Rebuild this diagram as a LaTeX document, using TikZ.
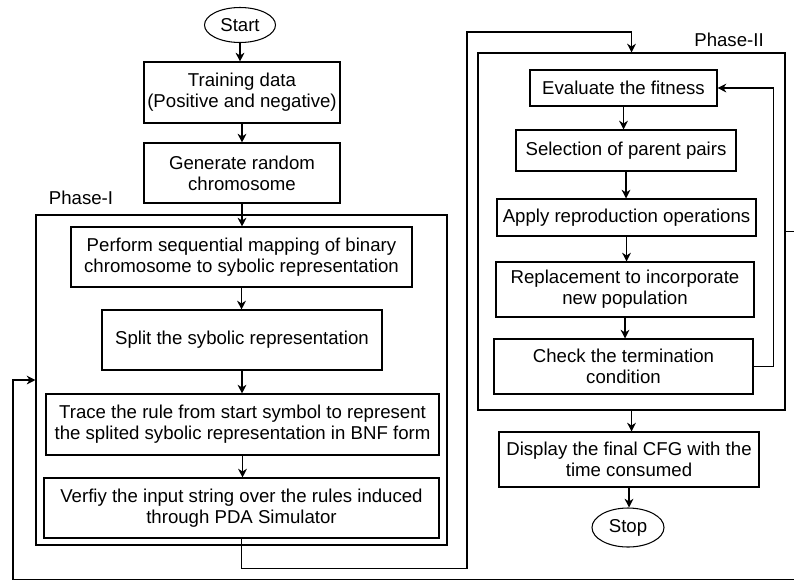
\documentclass[tikz,border=0pt]{standalone}
\usepackage{fontspec}
\setmainfont{Liberation Sans}
\usetikzlibrary{arrows.meta,shapes.geometric}
\begin{document}
\begin{tikzpicture}[x=0.02cm,y=-0.02cm,line width=0.6pt,font=\fontsize{10.6}{12}\selectfont,>={Stealth[length=5pt,width=5pt]},
	box/.style={draw,align=center,inner sep=0pt},
	term/.style={draw,ellipse,inner sep=0pt},
	sz/.style 2 args={minimum width=#1*0.02cm,minimum height=#2*0.02cm}]
	\path (0,0) coordinate (NW) (794,579) coordinate (SE) (467,32) coordinate (bend) (13,579.3) coordinate (lp);
	\useasboundingbox (NW) rectangle (SE);
	% Phase-I
	\node[term,sz={71}{35}] (start) at (240,25) {Start};
	\node[box,sz={196}{61}] (train) at (242,92.5) {Training data\\(Positive and negative)};
	\node[box,sz={196}{60}] (gen) at (242,173) {Generate random\\chromosome};
	\node[box,sz={411}{330}] (ph1) at (241.5,380) {};
	\node (ph1lbl) at (81,198) {Phase-I};
	\node[box,sz={341}{60}] (perform) at (241.5,257) {Perform sequential mapping of binary\\chromosome to sybolic representation};
	\node[box,sz={280}{60}] (split) at (242,340) {Split the sybolic representation};
	\node[box,sz={393}{61}] (trace) at (242.5,424.5) {Trace the rule from start symbol to represent\\the splited sybolic representation in BNF form};
	\node[box,sz={395}{60}] (verify) at (241.5,508) {Verfiy the input string over the rules induced\\through PDA Simulator};
	% Phase-II
	\node[box,sz={307}{357}] (ph2) at (631.5,231.5) {};
	\node (ph2lbl) at (729,40) {Phase-II};
	\node[box,sz={187}{36}] (eval) at (623.5,88) {Evaluate the fitness};
	\node[box,sz={220}{41}] (sel) at (626,150.5) {Selection of parent pairs};
	\node[box,sz={259}{37}] (apply) at (626.5,217.5) {Apply reproduction operations};
	\node[box,sz={258}{55}] (repl) at (625,289.5) {Replacement to incorporate\\new population};
	\node[box,sz={259}{55}] (check) at (623.5,366.5) {Check the termination\\condition};
	\node[box,sz={260}{55}] (disp) at (629,459.5) {Display the final CFG with the\\time consumed};
	\node[term,sz={72}{39}] (stop) at (628,527.5) {Stop};
	% connectors
	\foreach \a/\b in {start/train,train/gen,gen/perform,perform/split,split/trace,trace/verify,eval/sel,sel/apply,apply/repl,repl/check,ph2/disp,disp/stop}
		\draw[->] (\a.south) -- (\a.south|-\b.north);
	\draw[->] (verify.south) -- ++(0,30) -| (bend) -| (ph2.north);
	\draw[->] (check.east) -- ++(20,0) |- (eval.east);
	\draw[->] (ph2.east) -- ++(20,0) |- (lp) |- (ph1.west);
\end{tikzpicture}
\end{document}
